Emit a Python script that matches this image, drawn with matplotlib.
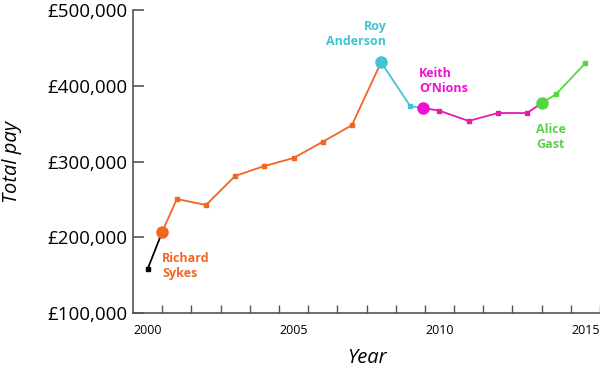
import matplotlib.pyplot as plt
from matplotlib.ticker import FuncFormatter

plt.rcParams['font.family'] = ['Open Sans', 'DejaVu Sans']

# pay by year, split by who was in charge (the join points are the handovers)
pre_years = [2000, 2000.5]
pre_pay = [158000, 207000]

sykes_years = [2000.5, 2001, 2002, 2003, 2004, 2005, 2006, 2007, 2008]
sykes_pay = [207000, 250500, 242600, 281000, 294000, 304600, 326000, 348000, 431000]

anderson_years = [2008, 2009, 2009.45]
anderson_pay = [431000, 373000, 370600]

onions_years = [2009.45, 2010, 2011, 2012, 2013, 2013.5]
onions_pay = [370600, 367000, 353500, 364000, 364000, 377000]

gast_years = [2013.5, 2014, 2015]
gast_pay = [377000, 389000, 430000]

names = ['Richard\nSykes', 'Roy\nAnderson', 'Keith\nO\u2019Nions', 'Alice\nGast']

orange = '#F26522'
cyan = '#42C3D6'
magenta_line = '#E61CA6'
magenta = '#F010D2'
green = '#52D83C'
green_text = '#5CD24C'

fig = plt.figure(figsize=(6, 3.7), dpi=100)
ax = fig.add_axes([0.2217, 0.154, 0.7783, 0.819])

lw = 1.3
ms = 3.2

ax.plot(pre_years, pre_pay, color='black', linewidth=lw)
ax.plot(pre_years[:1], pre_pay[:1], 's', color='black', markersize=ms)

ax.plot(sykes_years, sykes_pay, color=orange, linewidth=lw)
ax.plot(sykes_years[1:-1], sykes_pay[1:-1], 's', color=orange, markersize=ms)

ax.plot(anderson_years, anderson_pay, color=cyan, linewidth=lw)
ax.plot(anderson_years[1:-1], anderson_pay[1:-1], 's', color=cyan, markersize=ms)

ax.plot(onions_years, onions_pay, color=magenta_line, linewidth=lw)
ax.plot(onions_years[1:-1], onions_pay[1:-1], 's', color=magenta_line, markersize=ms)

ax.plot(gast_years, gast_pay, color=green, linewidth=lw)
ax.plot(gast_years[1:], gast_pay[1:], 's', color=green, markersize=ms)

# handover dots
ax.plot(sykes_years[0], sykes_pay[0], 'o', color=orange, markersize=8, zorder=5)
ax.plot(anderson_years[0], anderson_pay[0], 'o', color=cyan, markersize=8, zorder=5)
ax.plot(onions_years[0], onions_pay[0], 'o', color=magenta, markersize=8, zorder=5)
ax.plot(gast_years[0], gast_pay[0], 'o', color=green, markersize=8, zorder=5)

tk = dict(fontsize=9, fontweight='bold', va='top', linespacing=1.2)
ax.text(2000.5, 180500, names[0], color=orange, ha='left', **tk)
ax.text(2008.18, 487000, names[1], color=cyan, ha='right', multialignment='right', **tk)
ax.text(2009.3, 425000, names[2], color=magenta, ha='left', **tk)
ax.text(2013.32, 351000, names[3], color=green_text, ha='left', **tk)

ax.set_xlim(1999.5, 2015.5)
ax.set_ylim(100000, 500000)

ax.set_yticks([100000, 200000, 300000, 400000, 500000])
ax.yaxis.set_major_formatter(FuncFormatter(lambda v, p: f'\u00a3{int(v):,}'))
ax.tick_params(axis='y', direction='in', length=8, width=1.2, color='#555555',
               labelsize=13.5, pad=4)

ax.set_xticks([x + 0.5 for x in range(2000, 2016)])
ax.set_xticklabels([])
ax.set_xticks([2000, 2005, 2010, 2015], minor=True)
ax.set_xticklabels(['2000', '2005', '2010', '2015'], minor=True)
ax.tick_params(axis='x', which='major', direction='in', length=5.5, width=1.0, color='#555555')
ax.tick_params(axis='x', which='minor', length=0, labelsize=9, pad=8)

for s in ['top', 'right']:
    ax.spines[s].set_visible(False)
for s in ['left', 'bottom']:
    ax.spines[s].set_color('#555555')
    ax.spines[s].set_linewidth(1.2)

ax.set_ylabel('Total pay', fontsize=14.5, fontstyle='italic', labelpad=18)
ax.set_xlabel('Year', fontsize=14.5, fontstyle='italic', labelpad=8)

fig.savefig('out.png', dpi=100)
